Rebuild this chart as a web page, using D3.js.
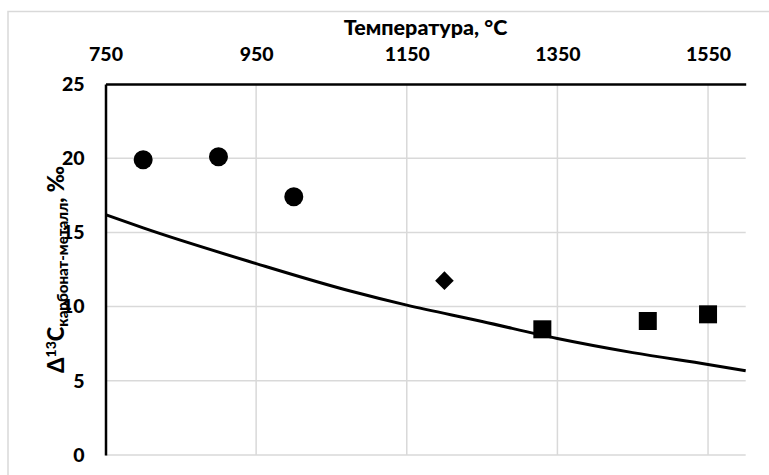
<!DOCTYPE html>
<html>
<head>
<meta charset="utf-8">
<script src="https://cdn.jsdelivr.net/npm/d3@7/dist/d3.min.js"></script>
<style>
  html, body { margin: 0; padding: 0; background: #fff; }
  svg { display: block; }
  text { font-family: Lato, "Open Sans", sans-serif; font-weight: 900; fill: #000; }
</style>
</head>
<body>
<svg id="chart" width="769" height="475"></svg>
<script>
// ---- data ----
const xTicks = [750, 950, 1150, 1350, 1550];
const yTicks = [0, 5, 10, 15, 20, 25];
const circleT = [800, 900, 1000];
const circleD = [19.9, 20.1, 17.4];
const diamondT = [1200];
const diamondD = [11.75];
const squareT = [1330, 1470, 1550];
const squareD = [8.47, 9.03, 9.48];
const curveT = [750, 800, 950, 1075, 1150, 1250, 1350, 1450, 1550, 1600];
const curveD = [16.2, 15.3, 12.9, 11.05, 10.1, 9.0, 7.85, 6.9, 6.1, 5.68];

const svg = d3.select("#chart");

// outer border
svg.append("rect").attr("x", 8).attr("y", 11.5).attr("width", 800).attr("height", 500)
  .attr("fill", "none").attr("stroke", "#d9d9d9").attr("stroke-width", 1.5);

const x = d3.scaleLinear().domain([750, 1600]).range([105.5, 745.7]);
const y = d3.scaleLinear().domain([0, 25]).range([455, 84]);

// gridlines
const grid = svg.append("g");
grid.selectAll("line.h").data(yTicks.filter(d => d < 25)).enter().append("line")
  .attr("x1", x(750)).attr("x2", x(1600))
  .attr("y1", d => y(d)).attr("y2", d => y(d))
  .attr("stroke", "#d9d9d9").attr("stroke-width", 1.5);
grid.selectAll("line.v").data(xTicks.filter(d => d > 750)).enter().append("line")
  .attr("x1", d => x(d)).attr("x2", d => x(d))
  .attr("y1", y(0)).attr("y2", y(25))
  .attr("stroke", "#d9d9d9").attr("stroke-width", 1.5);

// axes
const xAxis = d3.axisTop(x).tickValues(xTicks).tickFormat(d3.format("d"))
  .tickSize(0).tickSizeOuter(0).tickPadding(23);
const gx = svg.append("g").attr("transform", `translate(0,${y(25)})`).call(xAxis);
gx.select(".domain").attr("stroke", "#000").attr("stroke-width", 2.5);
gx.selectAll("text").attr("font-size", 19.5).style("font-family", "Lato").style("font-weight", "900");

const yAxis = d3.axisLeft(y).tickValues(yTicks).tickFormat(d3.format("d"))
  .tickSize(0).tickSizeOuter(0).tickPadding(21);
const gy = svg.append("g").attr("transform", `translate(${x(750)},0)`).call(yAxis);
gy.select(".domain").attr("stroke", "#000").attr("stroke-width", 2.5);
gy.selectAll("text").attr("font-size", 19.5).style("font-family", "Lato").style("font-weight", "900");

// curve
const pts = curveT.map((t, i) => [t, curveD[i]]);
svg.append("path").datum(pts)
  .attr("d", d3.line().x(d => x(d[0])).y(d => y(d[1])).curve(d3.curveMonotoneX))
  .attr("fill", "none").attr("stroke", "#000").attr("stroke-width", 3);

// markers
svg.selectAll("circle.m").data(circleT.map((t, i) => [t, circleD[i]])).enter().append("circle")
  .attr("cx", d => x(d[0])).attr("cy", d => y(d[1])).attr("r", 9.5).attr("fill", "#000");
const ds = 9.3;
svg.selectAll("path.dm").data(diamondT.map((t, i) => [t, diamondD[i]])).enter().append("path")
  .attr("d", d => { const cx = x(d[0]), cy = y(d[1]); return `M${cx},${cy-ds}L${cx+ds},${cy}L${cx},${cy+ds}L${cx-ds},${cy}Z`; })
  .attr("fill", "#000");
const sq = 18;
svg.selectAll("rect.sq").data(squareT.map((t, i) => [t, squareD[i]])).enter().append("rect")
  .attr("x", d => x(d[0]) - sq/2).attr("y", d => y(d[1]) - sq/2)
  .attr("width", sq).attr("height", sq).attr("fill", "#000");

// titles
svg.append("text").attr("x", (x(750) + x(1600)) / 2).attr("y", 34.5)
  .attr("text-anchor", "middle").attr("font-size", 21.5).text("Температура, °C");

const yt = svg.append("text")
  .attr("transform", `translate(63.5,${(y(0) + y(25)) / 2}) rotate(-90)`)
  .attr("text-anchor", "middle").attr("font-size", 22);
yt.append("tspan").text("Δ");
yt.append("tspan").attr("font-size", 14).attr("dy", -8).text("13");
yt.append("tspan").attr("dy", 8).text("C");
yt.append("tspan").attr("font-size", 15).attr("dy", 4).text("карбонат-металл");
yt.append("tspan").attr("dy", -4).text(", ‰");
</script>
</body>
</html>
